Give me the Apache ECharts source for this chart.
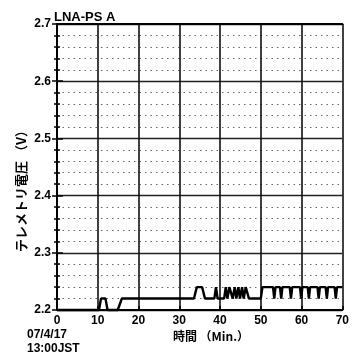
<!DOCTYPE html>
<html>
<head>
<meta charset="utf-8">
<script src="https://cdn.jsdelivr.net/npm/echarts@6/dist/echarts.min.js"></script>
<style>html,body{margin:0;padding:0;background:#fff;}#c{width:352px;height:356px;}</style>
</head>
<body>
<div id="c"></div>
<script>
const titleText = 'LNA-PS A';
const xName = '時間 （Min.）';
const yName = 'テレメトリ電圧 （V）';
const dateLines = ['07/4/17', '13:00JST'];
const xTicks = [0, 10, 20, 30, 40, 50, 60, 70];
const yTicks = [2.2, 2.3, 2.4, 2.5, 2.6, 2.7];
const times = [0, 10.3, 10.8, 11.9, 12.4, 14.9, 15.9, 33.6, 34.3, 35.6, 36.3, 38.6, 39.0, 39.4, 41.0, 41.4, 41.8, 42.3, 42.7, 43.1, 43.6, 44.0, 44.5, 44.9, 45.4, 45.8, 46.3, 46.7, 47.1, 50.0, 50.4, 53.0, 53.3, 53.6, 54.7, 55.0, 55.3, 57.1, 57.4, 57.7, 59.6, 59.9, 60.2, 61.5, 61.8, 62.1, 63.9, 64.2, 64.5, 65.9, 66.2, 66.5, 68.1, 68.4, 68.7, 70];
const volts = [2.20, 2.20, 2.22, 2.22, 2.20, 2.20, 2.22, 2.22, 2.24, 2.24, 2.22, 2.22, 2.24, 2.22, 2.22, 2.24, 2.22, 2.24, 2.24, 2.22, 2.24, 2.22, 2.24, 2.22, 2.24, 2.22, 2.24, 2.24, 2.22, 2.22, 2.24, 2.24, 2.22, 2.24, 2.24, 2.22, 2.24, 2.24, 2.22, 2.24, 2.24, 2.22, 2.24, 2.24, 2.22, 2.24, 2.24, 2.22, 2.24, 2.24, 2.22, 2.24, 2.24, 2.22, 2.24, 2.24];

const FONT = "'Liberation Sans', 'DejaVu Sans', sans-serif";
const CJK = "'Noto Sans CJK JP', 'Noto Sans', sans-serif";
const chart = echarts.init(document.getElementById('c'), null, {renderer: 'canvas'});
const data = times.map((t, i) => [t, volts[i]]);

chart.setOption({
  animation: false,
  backgroundColor: '#fff',
  grid: {left: 57, right: 8, top: 24, bottom: 46},
  xAxis: [{
    type: 'value', min: xTicks[0], max: xTicks[xTicks.length - 1], interval: 10,
    axisLine: {show: true, lineStyle: {color: '#000', width: 2}},
    axisTick: {show: true, inside: true, length: 4, lineStyle: {color: '#000', width: 1.5}},
    axisLabel: {color: '#000', fontFamily: FONT, fontWeight: 'bold', fontSize: 12, margin: 5},
    splitLine: {show: true, lineStyle: {color: '#111', width: 1.6}}
  }, {
    type: 'value', position: 'top', min: 0, max: 70, interval: 10,
    axisLine: {show: true, lineStyle: {color: '#000', width: 2}},
    axisTick: {show: false}, axisLabel: {show: false}, splitLine: {show: false}
  }],
  yAxis: [{
    type: 'value', min: yTicks[0], max: yTicks[yTicks.length - 1], interval: 0.1,
    axisLine: {show: true, lineStyle: {color: '#000', width: 2}},
    axisTick: {show: true, inside: true, length: 6, lineStyle: {color: '#000', width: 1.5}},
    minorTick: {show: true, splitNumber: 5, length: 3, lineStyle: {color: '#000', width: 1.5}},
    axisLabel: {color: '#000', fontFamily: FONT, fontWeight: 'bold', fontSize: 12, margin: 6,
      formatter: v => v.toFixed(1)},
    splitLine: {show: true, lineStyle: {color: '#222', width: 1.4}},
    minorSplitLine: {show: true, lineStyle: {color: '#666', width: 1, type: [1.5, 4]}}
  }, {
    type: 'value', position: 'right', min: 2.2, max: 2.7, interval: 0.1,
    axisLine: {show: true, lineStyle: {color: '#000', width: 2}},
    axisTick: {show: true, inside: true, length: 5, lineStyle: {color: '#000', width: 1.5}},
    minorTick: {show: true, splitNumber: 5, length: 3, lineStyle: {color: '#000', width: 1.5}},
    axisLabel: {show: false}, splitLine: {show: false}
  }],
  series: [{
    type: 'line', data: data, symbol: 'none', xAxisIndex: 0, yAxisIndex: 0,
    lineStyle: {color: '#000', width: 2.4}, silent: true, clip: false
  }],
  graphic: [
    {type: 'text', left: 54, top: 11, style: {text: titleText, fill: '#000', font: 'bold 13px ' + FONT}},
    {type: 'text', x: 21, y: 188, rotation: Math.PI / 2,
      style: {text: yName, fill: '#000', font: 'bold 13px ' + CJK, align: 'center', verticalAlign: 'middle'}},
    {type: 'text', x: 211, y: 336,
      style: {text: xName, fill: '#000', font: 'bold 12px ' + CJK, align: 'center', verticalAlign: 'middle'}},
    {type: 'text', x: 27, y: 335,
      style: {text: dateLines[0], fill: '#000', font: 'bold 12px ' + FONT, verticalAlign: 'middle'}},
    {type: 'text', x: 27, y: 349,
      style: {text: dateLines[1], fill: '#000', font: 'bold 12px ' + FONT, verticalAlign: 'middle'}}
  ]
});
</script>
</body>
</html>
